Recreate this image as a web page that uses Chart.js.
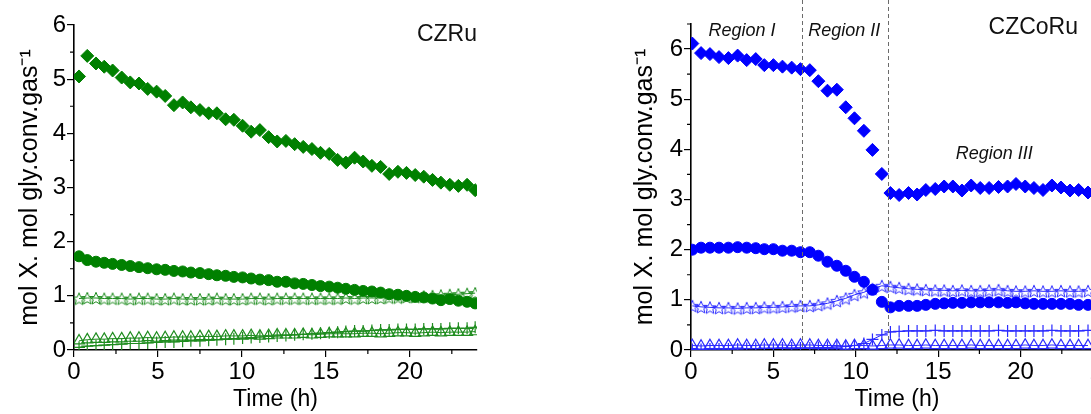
<!DOCTYPE html>
<html>
<head>
<meta charset="utf-8">
<script src="https://cdn.jsdelivr.net/npm/chart.js@4.4.0/dist/chart.umd.min.js"></script>
<style>
    html, body { margin: 0; padding: 0; background: #fff; overflow: hidden; }
    body { width: 1091px; height: 414px; position: relative; }
    #wrap-ru { position: absolute; left: 0; top: 0; width: 545px; height: 414px; }
    #wrap-coru { position: absolute; left: 560px; top: 0; width: 560px; height: 414px; }
</style>
</head>
<body>
<div id="wrap-ru"><canvas id="c-ru"></canvas></div>
<div id="wrap-coru"><canvas id="c-coru"></canvas></div>
<script>
// CZRu panel (hours)
const timeRu = [0.3, 0.79, 1.31, 1.8, 2.3, 2.84, 3.35, 3.87, 4.39, 4.92, 5.43, 5.95, 6.47, 6.96, 7.5, 8.02, 8.51, 9.03, 9.52, 10.04,
    10.55, 11.07, 11.59, 12.1, 12.62, 13.14, 13.65, 14.17, 14.68, 15.2, 15.7, 16.19, 16.71, 17.22, 17.74, 18.26, 18.77, 19.29, 19.8, 20.32,
    20.83, 21.35, 21.85, 22.38, 22.89, 23.41, 23.89];
const ruDiamonds = [5.05, 5.43, 5.29, 5.23, 5.16, 5.03, 4.94, 4.92, 4.82, 4.77, 4.69, 4.52, 4.57, 4.48, 4.43, 4.37, 4.37, 4.26, 4.25, 4.14,
    4.03, 4.06, 3.93, 3.85, 3.86, 3.80, 3.75, 3.71, 3.64, 3.62, 3.51, 3.46, 3.55, 3.48, 3.40, 3.38, 3.25, 3.29, 3.27, 3.23,
    3.20, 3.14, 3.09, 3.05, 3.03, 3.05, 2.95];
const ruCircles = [1.73, 1.66, 1.63, 1.61, 1.59, 1.57, 1.55, 1.53, 1.51, 1.49, 1.48, 1.46, 1.45, 1.43, 1.42, 1.40, 1.38, 1.37, 1.35, 1.34,
    1.32, 1.30, 1.29, 1.26, 1.26, 1.23, 1.22, 1.20, 1.18, 1.17, 1.15, 1.13, 1.11, 1.09, 1.08, 1.06, 1.03, 1.02, 1.00, 0.98,
    0.97, 0.95, 0.92, 0.94, 0.91, 0.89, 0.86];
const ruStars = [0.95, 0.96, 0.96, 0.95, 0.95, 0.95, 0.94, 0.95, 0.95, 0.94, 0.94, 0.95, 0.94, 0.94, 0.94, 0.94, 0.95, 0.94, 0.94, 0.94,
    0.95, 0.95, 0.94, 0.95, 0.95, 0.95, 0.95, 0.95, 0.95, 0.95, 0.95, 0.96, 0.95, 0.96, 0.96, 0.96, 0.97, 0.97, 0.98, 0.98,
    0.99, 1.00, 1.01, 1.02, 1.03, 1.04, 1.05];
const ruTriangles = [0.17, 0.19, 0.20, 0.20, 0.21, 0.21, 0.22, 0.22, 0.23, 0.22, 0.23, 0.24, 0.24, 0.24, 0.25, 0.25, 0.25, 0.26, 0.26, 0.26,
    0.27, 0.26, 0.27, 0.28, 0.28, 0.28, 0.29, 0.28, 0.29, 0.30, 0.30, 0.30, 0.30, 0.31, 0.31, 0.30, 0.31, 0.32, 0.32, 0.31,
    0.32, 0.33, 0.32, 0.33, 0.33, 0.33, 0.34];
const ruCrosses = [0.05, 0.07, 0.08, 0.09, 0.10, 0.11, 0.12, 0.12, 0.13, 0.14, 0.15, 0.15, 0.16, 0.17, 0.17, 0.18, 0.19, 0.20, 0.21, 0.22,
    0.23, 0.24, 0.25, 0.26, 0.27, 0.28, 0.29, 0.30, 0.31, 0.32, 0.33, 0.34, 0.35, 0.35, 0.36, 0.37, 0.37, 0.38, 0.38, 0.38,
    0.39, 0.39, 0.39, 0.40, 0.40, 0.40, 0.42];

// CZCoRu panel (hours)
const timeCoRu = [0.08, 0.61, 1.15, 1.7, 2.27, 2.83, 3.38, 3.93, 4.45, 5.0, 5.55, 6.11, 6.64, 7.21, 7.73, 8.28, 8.85, 9.39, 9.92, 10.49,
    11.01, 11.58, 12.1, 12.63, 13.2, 13.72, 14.25, 14.82, 15.36, 15.89, 16.44, 17.0, 17.55, 18.09, 18.66, 19.21, 19.72, 20.28, 20.81, 21.36,
    21.9, 22.45, 23.0, 23.52, 24.09];
const coruDiamonds = [6.11, 5.92, 5.90, 5.84, 5.82, 5.87, 5.78, 5.80, 5.68, 5.68, 5.65, 5.63, 5.60, 5.58, 5.36, 5.17, 5.19, 4.84, 4.62, 4.37,
    3.99, 3.51, 3.13, 3.09, 3.13, 3.10, 3.19, 3.21, 3.26, 3.26, 3.18, 3.28, 3.23, 3.23, 3.25, 3.26, 3.31, 3.26, 3.23, 3.19,
    3.28, 3.24, 3.18, 3.19, 3.14];
const coruCircles = [2.00, 2.04, 2.04, 2.04, 2.04, 2.05, 2.04, 2.03, 2.01, 2.01, 1.98, 1.98, 1.95, 1.95, 1.88, 1.76, 1.68, 1.58, 1.46, 1.36,
    1.20, 0.96, 0.85, 0.88, 0.88, 0.88, 0.90, 0.92, 0.93, 0.94, 0.94, 0.95, 0.95, 0.95, 0.95, 0.94, 0.95, 0.93, 0.92, 0.92,
    0.92, 0.92, 0.92, 0.90, 0.90];
const coruStars = [0.88, 0.86, 0.85, 0.84, 0.84, 0.83, 0.84, 0.84, 0.85, 0.85, 0.86, 0.87, 0.88, 0.88, 0.90, 0.93, 0.98, 1.03, 1.10, 1.15,
    1.22, 1.28, 1.26, 1.24, 1.22, 1.21, 1.20, 1.19, 1.19, 1.18, 1.19, 1.18, 1.18, 1.19, 1.20, 1.18, 1.17, 1.17, 1.18, 1.17,
    1.17, 1.18, 1.17, 1.17, 1.18];
const coruTriangles = [0.09, 0.08, 0.09, 0.09, 0.09, 0.10, 0.09, 0.09, 0.10, 0.10, 0.10, 0.09, 0.10, 0.10, 0.09, 0.09, 0.09, 0.08, 0.09, 0.09,
    0.08, 0.09, 0.10, 0.10, 0.09, 0.09, 0.10, 0.09, 0.09, 0.09, 0.09, 0.10, 0.09, 0.09, 0.09, 0.09, 0.09, 0.10, 0.09, 0.09,
    0.10, 0.09, 0.09, 0.09, 0.09];
const coruCrosses = [0.01, 0.01, 0.02, 0.02, 0.02, 0.02, 0.03, 0.03, 0.03, 0.03, 0.04, 0.04, 0.04, 0.04, 0.05, 0.05, 0.06, 0.07, 0.09, 0.13,
    0.21, 0.30, 0.36, 0.37, 0.38, 0.38, 0.38, 0.39, 0.38, 0.38, 0.38, 0.38, 0.38, 0.38, 0.39, 0.38, 0.38, 0.38, 0.38, 0.38,
    0.39, 0.38, 0.38, 0.38, 0.39];

const regionEdges = [6.75, 11.95];
const regionNames = ['Region I', 'Region II', 'Region III'];

const FONT = '"Liberation Sans", Arial, sans-serif';

function pts(xs, ys) {
    return xs.map((x, i) => ({ x: x, y: ys[i] }));
}

// open five-point star used as a point style
function starImage(color, r) {
    const c = document.createElement('canvas');
    const s = Math.ceil(r * 2 + 3);
    c.width = s;
    c.height = s;
    const g = c.getContext('2d');
    g.strokeStyle = color;
    g.lineWidth = 1;
    g.beginPath();
    for (let i = 0; i < 10; i++) {
        const rr = i % 2 ? r * 0.45 : r;
        const a = -Math.PI / 2 + i * Math.PI / 5;
        const px = s / 2 + rr * Math.cos(a);
        const py = s / 2 + rr * Math.sin(a) + 0.8;
        if (i === 0) g.moveTo(px, py); else g.lineTo(px, py);
    }
    g.closePath();
    g.stroke();
    return c;
}

function makeDatasets(xs, series, color, lineColor) {
    return [
        { data: pts(xs, series[0]), pointStyle: 'rectRot', pointRadius: 6.5, backgroundColor: color, borderColor: color, borderWidth: 1, showLine: false },
        { data: pts(xs, series[1]), pointStyle: 'circle', pointRadius: 5.5, backgroundColor: color, borderColor: color, borderWidth: 1, showLine: false },
        { data: pts(xs, series[2]), pointStyle: starImage(lineColor, 6.5), pointRadius: 6, borderColor: lineColor, borderWidth: 1, showLine: true },
        { data: pts(xs, series[3]), pointStyle: 'triangle', pointRadius: 6.3, backgroundColor: 'rgba(0,0,0,0)', borderColor: lineColor, borderWidth: 1, pointBorderWidth: 1.2, showLine: true },
        { data: pts(xs, series[4]), pointStyle: 'cross', pointRadius: 6, borderColor: lineColor, borderWidth: 1, pointBorderWidth: 1.2, showLine: true }
    ];
}

// minor ticks, dashed region edges, panel texts
const extras = {
    id: 'extras',
    afterDraw(chart, args, opts) {
        const ctx = chart.ctx;
        const xs = chart.scales.x;
        const ys = chart.scales.y;
        const area = chart.chartArea;
        ctx.save();
        ctx.strokeStyle = '#000';
        ctx.lineWidth = 1.2;
        ctx.beginPath();
        for (let v = 2.5; v <= xs.max; v += 5) {
            const px = xs.getPixelForValue(v);
            ctx.moveTo(px, area.bottom);
            ctx.lineTo(px, area.bottom + 4);
        }
        for (let v = 0.5; v <= ys.max + 0.01; v += 1) {
            const py = ys.getPixelForValue(v);
            ctx.moveTo(area.left, py);
            ctx.lineTo(area.left - 4, py);
        }
        ctx.stroke();

        if (opts.edges) {
            ctx.strokeStyle = '#6b6b6b';
            ctx.lineWidth = 1;
            ctx.setLineDash([4, 3]);
            opts.edges.forEach(e => {
                const px = Math.round(xs.getPixelForValue(e)) + 0.5;
                ctx.beginPath();
                ctx.moveTo(px, 0);
                ctx.lineTo(px, area.bottom);
                ctx.stroke();
            });
            ctx.setLineDash([]);
        }

        ctx.fillStyle = '#111';
        ctx.font = 'italic 18px ' + FONT;
        ctx.textAlign = 'center';
        ctx.textBaseline = 'middle';
        (opts.labels || []).forEach(l => {
            ctx.fillText(l.text, xs.getPixelForValue(l.x), ys.getPixelForValue(l.y));
        });

        ctx.font = '23px ' + FONT;
        ctx.textAlign = 'right';
        ctx.textBaseline = 'alphabetic';
        ctx.fillText(opts.title, opts.titleX, opts.titleY);
        ctx.restore();
    }
};

function axisOptions(xMax, yMax, yWidth) {
    return {
        x: {
            type: 'linear', min: 0, max: xMax,
            border: { color: '#000', width: 1.6 },
            grid: { drawOnChartArea: false, color: '#000', tickLength: 7, lineWidth: 1.2 },
            ticks: { stepSize: 5, includeBounds: false, color: '#000', padding: 1, maxRotation: 0, font: { size: 24, family: FONT } },
            title: { display: true, text: 'Time (h)', color: '#000', padding: { top: 0, bottom: 1 }, font: { size: 23, family: FONT } },
            afterFit(s) { s.height = 64; }
        },
        y: {
            type: 'linear', min: 0, max: yMax,
            border: { color: '#000', width: 1.6 },
            grid: { drawOnChartArea: false, color: '#000', tickLength: 7, lineWidth: 1.2 },
            ticks: { stepSize: 1, includeBounds: false, color: '#000', padding: 1, font: { size: 24, family: FONT } },
            title: { display: true, text: 'mol X. mol gly.conv.gas\u207B\u00B9', color: '#000', padding: { top: 3, bottom: 0 }, font: { size: 25, family: FONT } },
            afterFit(s) { s.width = yWidth; }
        }
    };
}

const chartRu = new Chart(document.querySelector('#c-ru'), {
    type: 'scatter',
    data: { datasets: makeDatasets(timeRu, [ruDiamonds, ruCircles, ruStars, ruTriangles, ruCrosses], '#008000', '#1e8c1e') },
    options: {
        responsive: true,
        maintainAspectRatio: false,
        animation: false,
        layout: { padding: { left: 12, top: 25, right: 68, bottom: 0 } },
        scales: axisOptions(24, 6, 62),
        plugins: {
            legend: { display: false },
            tooltip: { enabled: false },
            extras: { title: 'CZRu', titleX: 477, titleY: 41 }
        }
    },
    plugins: [extras]
});

const chartCoRu = new Chart(document.querySelector('#c-coru'), {
    type: 'scatter',
    data: { datasets: makeDatasets(timeCoRu, [coruDiamonds, coruCircles, coruStars, coruTriangles, coruCrosses], '#0000ff', '#2a2aff') },
    options: {
        responsive: true,
        maintainAspectRatio: false,
        animation: false,
        layout: { padding: { left: 67, top: 24, right: 17, bottom: 0 } },
        scales: axisOptions(25, 6.5, 64),
        plugins: {
            legend: { display: false },
            tooltip: { enabled: false },
            extras: {
                title: 'CZCoRu', titleX: 518, titleY: 34,
                edges: regionEdges,
                labels: [
                    { text: regionNames[0], x: 3.1, y: 6.36 },
                    { text: regionNames[1], x: 9.3, y: 6.36 },
                    { text: regionNames[2], x: 18.4, y: 3.9 }
                ]
            }
        }
    },
    plugins: [extras]
});
</script>
</body>
</html>
